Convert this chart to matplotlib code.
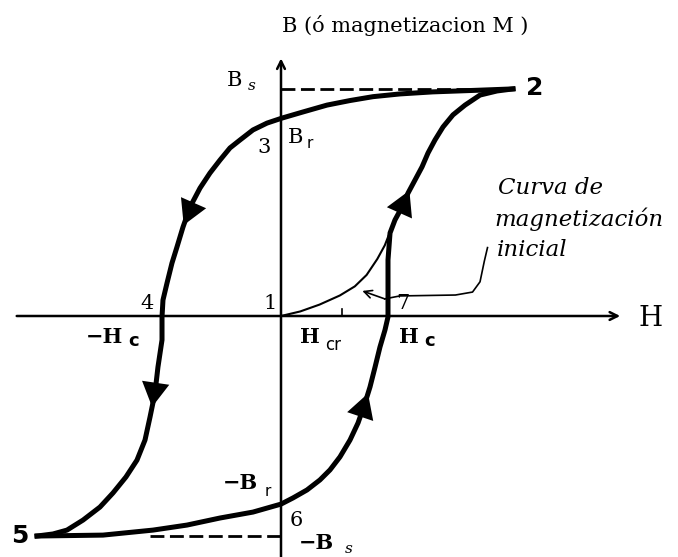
import numpy as np
import matplotlib.pyplot as plt

# lazo de histeresis: H en unidades de Hc, B en unidades de Bs
# rama descendente 2 -> 3 -> 4 -> 5
desc_H = [2.168, 1.832, 1.42, 1.112, 0.860, 0.645, 0.430, 0.206, 0.009, -0.131,
          -0.262, -0.383, -0.477, -0.570, -0.664, -0.757, -0.850, -0.916, -0.972,
          -1.019, -1.065, -1.103, -1.112, -1.112, -1.150, -1.178, -1.224, -1.271,
          -1.346, -1.449, -1.570, -1.692, -1.850, -2.000, -2.131, -2.280]
desc_B = [0.996, 0.990, 0.983, 0.974, 0.962, 0.945, 0.925, 0.895, 0.868, 0.846,
          0.816, 0.772, 0.737, 0.684, 0.627, 0.561, 0.478, 0.390, 0.303,
          0.232, 0.145, 0.070, -0.004, -0.105, -0.224, -0.338, -0.443, -0.544,
          -0.632, -0.706, -0.776, -0.838, -0.895, -0.939, -0.956, -0.965]
# rama ascendente 5 -> 6 -> 7 -> 2
asc_H = [-2.280, -1.664, -1.196, -0.879, -0.570, -0.262, 0.0, 0.112, 0.243, 0.364,
         0.458, 0.551, 0.645, 0.720, 0.785, 0.832, 0.879, 0.925, 0.972, 1.000,
         1.000, 1.000, 1.019, 1.065, 1.131, 1.187, 1.252, 1.318, 1.374, 1.439,
         1.514, 1.607, 1.720, 1.860, 2.019, 2.168]
asc_B = [-0.965, -0.961, -0.939, -0.917, -0.886, -0.860, -0.825, -0.798, -0.763, -0.719,
         -0.675, -0.618, -0.544, -0.469, -0.382, -0.311, -0.224, -0.136, -0.061, -0.004,
         0.114, 0.246, 0.364, 0.421, 0.478, 0.539, 0.596, 0.654, 0.715, 0.772,
         0.829, 0.882, 0.925, 0.969, 0.987, 0.996]
# curva de magnetizacion inicial 1 -> 2
init_H = [0.0, 0.18, 0.36, 0.55, 0.69, 0.80, 0.90, 0.97, 1.02]
init_B = [0.0, 0.02, 0.05, 0.09, 0.13, 0.18, 0.25, 0.31, 0.37]
lead_H = [1.93, 1.90, 1.86, 1.79, 1.63, 1.11, 0.97, 0.76]
lead_B = [0.30, 0.24, 0.15, 0.105, 0.092, 0.088, 0.075, 0.11]
Bs, mBs = 0.996, -0.965
H_cr = 0.57
# flechas de recorrido: (rama, indice, fraccion hacia el siguiente punto)
arrows = [('desc', 16, 0.9), ('desc', 25, 0.58), ('asc', 14, 0.6), ('asc', 25, 0.2)]

fig = plt.figure(figsize=(6.78, 5.57), dpi=100)
ax = fig.add_axes([0, 0, 1, 1])
ax.set_xlim(-281 / 107, 397 / 107)
ax.set_ylim(-241 / 228, 316 / 228)
ax.axis('off')

# ejes
axis_arrow = dict(arrowstyle='->', lw=1.8, color='k', mutation_scale=14,
                  shrinkA=0, shrinkB=0)
ax.annotate('', xy=(0, 1.13), xytext=(0, -1.06), arrowprops=axis_arrow)
ax.annotate('', xy=(3.17, 0), xytext=(-2.47, 0), arrowprops=axis_arrow)

# saturacion
ax.plot([0, desc_H[0]], [Bs, Bs], color='k', lw=2, ls=(0, (5, 2)))
ax.plot([-1.22, 0], [mBs, mBs], color='k', lw=2, ls=(0, (5, 2)))

# ramas
ax.plot(desc_H, desc_B, color='k', lw=3.6, solid_joinstyle='round')
ax.plot(asc_H, asc_B, color='k', lw=3.6, solid_joinstyle='round')
ax.plot(init_H, init_B, color='k', lw=1.5)
ax.plot([H_cr, H_cr], [0, 0.03], color='k', lw=1.2)

head = dict(arrowstyle='-|>,head_length=0.8,head_width=0.45', color='k',
            lw=0, mutation_scale=22, shrinkA=0, shrinkB=0)
branches = {'desc': (np.array(desc_H), np.array(desc_B)),
            'asc': (np.array(asc_H), np.array(asc_B))}
for name, i, t in arrows:
    hh, bb = branches[name]
    tip = (hh[i] + t * (hh[i + 1] - hh[i]), bb[i] + t * (bb[i + 1] - bb[i]))
    ax.annotate('', xy=tip, xytext=(hh[i - 1], bb[i - 1]), arrowprops=head)

# flecha de la leyenda
ax.plot(lead_H[:-1], lead_B[:-1], color='k', lw=1.2)
ax.annotate('', xy=(lead_H[-1], lead_B[-1]), xytext=(lead_H[-2], lead_B[-2]),
            arrowprops=dict(arrowstyle='->', lw=1.2, color='k', mutation_scale=14,
                            shrinkA=0, shrinkB=0))

serif = 'DejaVu Serif'
sans = 'DejaVu Sans'
kw = dict(ha='center', va='center')
ax.text(1.159, 1.276, 'B (ó magnetizacion M )', family=serif, fontsize=15, **kw)
ax.text(-0.43, 1.035, 'B', family=serif, fontsize=15, **kw)
ax.text(-0.271, 1.008, 's', family=serif, style='italic', fontsize=11, **kw)
ax.text(2.37, 1.0, '2', family=sans, weight='bold', fontsize=18, **kw)
ax.text(-0.159, 0.741, '3', family=serif, fontsize=15, **kw)
ax.text(0.14, 0.785, 'B', family=serif, fontsize=15, **kw)
ax.text(0.271, 0.758, 'r', family=sans, fontsize=11, **kw)
ax.text(-1.252, 0.057, '4', family=serif, fontsize=15, **kw)
ax.text(-0.103, 0.057, '1', family=serif, fontsize=15, **kw)
ax.text(1.14, 0.057, '7', family=serif, fontsize=15, **kw)
ax.text(-1.654, -0.092, '−H', family=serif, weight='bold', fontsize=15, **kw)
ax.text(-1.374, -0.108, 'c', family=sans, weight='bold', fontsize=13, **kw)
ax.text(0.271, -0.092, 'H', family=serif, weight='bold', fontsize=15, **kw)
ax.text(0.486, -0.125, 'cr', family=sans, fontsize=12, **kw)
ax.text(1.196, -0.092, 'H', family=serif, weight='bold', fontsize=15, **kw)
ax.text(1.392, -0.108, 'c', family=sans, weight='bold', fontsize=13, **kw)
ax.text(3.458, -0.009, 'H', family=serif, fontsize=20, **kw)
note = dict(family=serif, style='italic', fontsize=16.5, ha='left', va='center')
ax.text(2.028, 0.561, 'Curva de', **note)
ax.text(1.99, 0.425, 'magnetización', **note)
ax.text(2.019, 0.289, 'inicial', **note)
ax.text(-0.383, -0.732, '−B', family=serif, weight='bold', fontsize=15, **kw)
ax.text(-0.121, -0.77, 'r', family=sans, fontsize=11, **kw)
ax.text(0.14, -0.895, '6', family=serif, fontsize=15, **kw)
ax.text(0.327, -0.996, '−B', family=serif, weight='bold', fontsize=15, **kw)
ax.text(0.636, -1.022, 's', family=serif, style='italic', fontsize=11, **kw)
ax.text(-2.44, -0.965, '5', family=sans, weight='bold', fontsize=18, **kw)

fig.savefig('out.png', dpi=100)
